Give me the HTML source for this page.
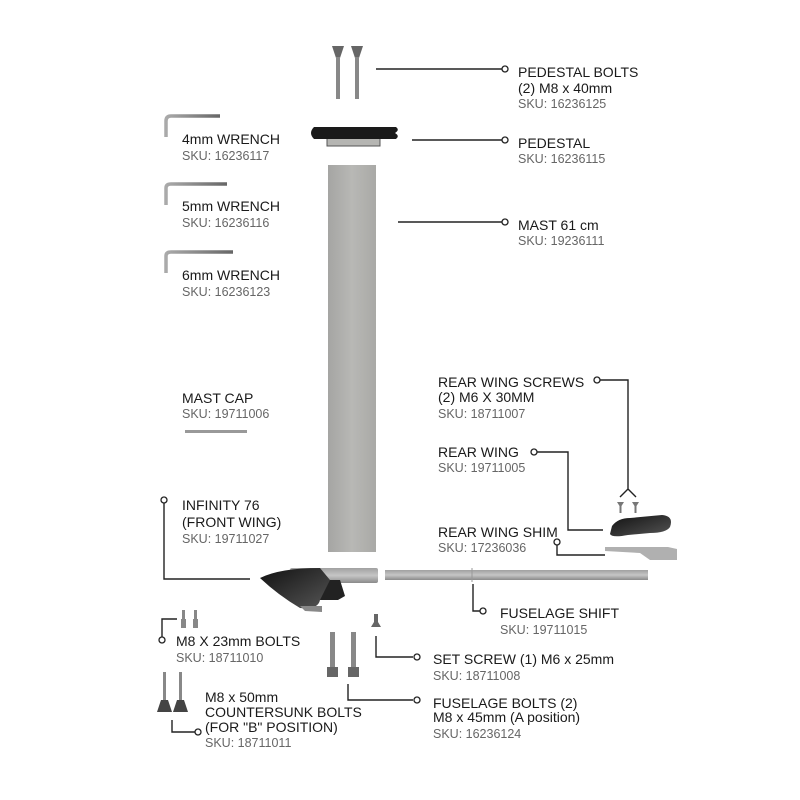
<!DOCTYPE html>
<html><head><meta charset="utf-8"><style>
html,body{margin:0;padding:0;background:#fff}
svg{display:block}
.t{font-family:"Liberation Sans",sans-serif;font-size:14px;fill:#1a1a1a}
.s{font-family:"Liberation Sans",sans-serif;font-size:12.5px;fill:#666}
.l{stroke:#222;stroke-width:1.4;fill:none}
.c{stroke:#222;stroke-width:1.3;fill:#fff}
</style></head><body>
<svg width="800" height="800" viewBox="0 0 800 800" xmlns="http://www.w3.org/2000/svg">
<defs>
<linearGradient id="mast" x1="0" x2="1"><stop offset="0" stop-color="#a5a5a3"/><stop offset=".5" stop-color="#b8b8b5"/><stop offset="1" stop-color="#a9a9a6"/></linearGradient>
<linearGradient id="tube" x1="0" y1="0" x2="0" y2="1"><stop offset="0" stop-color="#a0a0a0"/><stop offset=".5" stop-color="#c6c6c6"/><stop offset="1" stop-color="#8a8a8a"/></linearGradient>
<linearGradient id="wr" x1="0" x2="1"><stop offset="0" stop-color="#aaa"/><stop offset="1" stop-color="#666"/></linearGradient>
<linearGradient id="dk" x1="0" y1="0" x2="1" y2="1"><stop offset="0" stop-color="#111"/><stop offset="1" stop-color="#555"/></linearGradient>
</defs>

<!-- pedestal bolts -->
<g fill="#666">
<path d="M332 46 L344 46 L340 58 L336 58 Z"/><rect x="336" y="57" width="4" height="42" fill="#888"/>
<path d="M351 46 L363 46 L359 58 L355 58 Z"/><rect x="355" y="57" width="4" height="42" fill="#888"/>
</g>
<path class="l" d="M376 69 H502"/><circle class="c" cx="505" cy="69" r="3"/>
<text class="t" x="518" y="77">PEDESTAL BOLTS</text>
<text class="t" x="518" y="93">(2) M8 x 40mm</text>
<text class="s" x="518" y="108">SKU: 16236125</text>

<!-- pedestal -->
<rect x="327" y="134" width="53" height="12" fill="#b5b5b2" stroke="#555" stroke-width="1"/>
<path d="M314 127 L396 127 Q400 130 395 133 Q400 136 396 139 L314 139 Q308 133 314 127Z" fill="#1a1a1a"/>
<path class="l" d="M412 140 H502"/><circle class="c" cx="505" cy="140" r="3"/>
<text class="t" x="518" y="148">PEDESTAL</text>
<text class="s" x="518" y="163">SKU: 16236115</text>

<!-- mast -->
<rect x="328" y="165" width="48" height="387" fill="url(#mast)"/>
<path class="l" d="M398 222 H502"/><circle class="c" cx="505" cy="222" r="3"/>
<text class="t" x="518" y="230">MAST 61 cm</text>
<text class="s" x="518" y="245">SKU: 19236111</text>

<!-- wrenches -->
<path d="M166 137 V121 Q166 116 171 116 H220" stroke="url(#wr)" stroke-width="3.5" fill="none"/>
<text class="t" x="182" y="144">4mm WRENCH</text>
<text class="s" x="182" y="160">SKU: 16236117</text>
<path d="M166 205 V188 Q166 184 171 184 H227" stroke="url(#wr)" stroke-width="3.5" fill="none"/>
<text class="t" x="182" y="211">5mm WRENCH</text>
<text class="s" x="182" y="227">SKU: 16236116</text>
<path d="M166 273 V256 Q166 252 171 252 H233" stroke="url(#wr)" stroke-width="3.5" fill="none"/>
<text class="t" x="182" y="280">6mm WRENCH</text>
<text class="s" x="182" y="296">SKU: 16236123</text>

<!-- mast cap -->
<text class="t" x="182" y="403">MAST CAP</text>
<text class="s" x="182" y="418">SKU: 19711006</text>
<rect x="185" y="430" width="62" height="3" fill="#999"/>

<!-- rear wing screws -->
<text class="t" x="438" y="387">REAR WING SCREWS</text>
<text class="t" x="438" y="402">(2) M6 X 30MM</text>
<text class="s" x="438" y="418">SKU: 18711007</text>
<circle class="c" cx="597" cy="380" r="3"/>
<path class="l" d="M600 380 H628 V490 M620 497 L628 489 L636 497"/>
<g fill="#777"><path d="M617 502 H624 L621.5 506 V513 H619.5 V506Z"/><path d="M632 502 H639 L636.5 506 V513 H634.5 V506Z"/></g>

<!-- rear wing -->
<text class="t" x="438" y="457">REAR WING</text>
<text class="s" x="438" y="472">SKU: 19711005</text>
<circle class="c" cx="534" cy="452" r="3"/>
<path class="l" d="M537 452 H568 V530 H603"/>
<path d="M612 526 Q618 518 630 518 L662 515 Q674 516 670 527 Q666 533 650 533 L628 535 Q612 538 610 534Z" fill="url(#dk)"/>

<!-- rear wing shim -->
<text class="t" x="438" y="537">REAR WING SHIM</text>
<text class="s" x="438" y="552">SKU: 17236036</text>
<circle class="c" cx="557" cy="542" r="3"/>
<path class="l" d="M557 545 V555 H605"/>
<path d="M605 547 L668 547 L677 549 L677 560 L650 560 L640 553 L605 551Z" fill="#b0b0b0"/>

<!-- infinity front wing -->
<circle class="c" cx="164" cy="500" r="3"/>
<path class="l" d="M164 503 V579 H250"/>
<text class="t" x="182" y="510">INFINITY 76</text>
<text class="t" x="182" y="527">(FRONT WING)</text>
<text class="s" x="182" y="543">SKU: 19711027</text>
<rect x="290" y="568" width="88" height="15" rx="2" fill="url(#tube)"/>
<path d="M322 580 L340 580 L345 596 L338 600 L318 600Z" fill="#222"/>
<path d="M260 578 Q280 568 320 568 L330 580 L320 600 Q318 610 300 608 Q278 595 260 578Z" fill="url(#dk)"/>
<path d="M300 606 L322 606 L322 612 L305 611Z" fill="#888"/>

<!-- fuselage -->
<rect x="385" y="570" width="263" height="10" fill="url(#tube)"/>
<line x1="472" y1="568" x2="472" y2="582" stroke="#999"/>
<path class="l" d="M473 584 V611 H480"/><circle class="c" cx="483" cy="611" r="3"/>
<text class="t" x="500" y="618">FUSELAGE SHIFT</text>
<text class="s" x="500" y="634">SKU: 19711015</text>

<!-- M8x23 -->
<g fill="#888"><rect x="182" y="610" width="3" height="10"/><rect x="181" y="619" width="5" height="9"/><rect x="194" y="610" width="3" height="10"/><rect x="193" y="619" width="5" height="9"/></g>
<path class="l" d="M162 637 V619 H177"/><circle class="c" cx="162" cy="640" r="3"/>
<text class="t" x="176" y="646">M8 X 23mm BOLTS</text>
<text class="s" x="176" y="662">SKU: 18711010</text>

<!-- set screw -->
<path d="M374 614 H378 V622 L381 627 H371 L374 622Z" fill="#666"/>
<path class="l" d="M376 636 V657 H413"/><circle class="c" cx="417" cy="657" r="3"/>
<text class="t" x="433" y="664">SET SCREW (1) M6 x 25mm</text>
<text class="s" x="433" y="680">SKU: 18711008</text>

<!-- fuselage bolts -->
<g fill="#888"><rect x="330" y="632" width="5" height="36"/><rect x="327" y="667" width="11" height="10" fill="#666"/><rect x="351" y="632" width="5" height="36"/><rect x="348" y="667" width="11" height="10" fill="#666"/></g>
<path class="l" d="M348 684 V700 H413"/><circle class="c" cx="417" cy="700" r="3"/>
<text class="t" x="433" y="708">FUSELAGE BOLTS (2)</text>
<text class="t" x="433" y="722">M8 x 45mm  (A position)</text>
<text class="s" x="433" y="738">SKU: 16236124</text>

<!-- countersunk -->
<g fill="#888"><rect x="163" y="672" width="3" height="30"/><rect x="179" y="672" width="3" height="30"/></g>
<g fill="#444"><path d="M161 700 H168 L172 712 H157Z"/><path d="M177 700 H184 L188 712 H173Z"/></g>
<path class="l" d="M172 720 V732 H195"/><circle class="c" cx="198" cy="732" r="3"/>
<text class="t" x="205" y="702">M8 x 50mm</text>
<text class="t" x="205" y="717">COUNTERSUNK BOLTS</text>
<text class="t" x="205" y="732">(FOR "B" POSITION)</text>
<text class="s" x="205" y="747">SKU: 18711011</text>
</svg>
</body></html>
